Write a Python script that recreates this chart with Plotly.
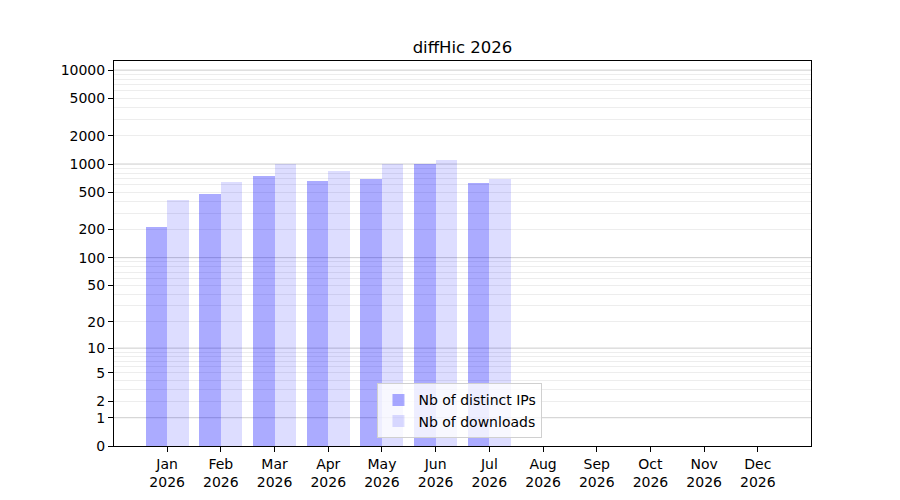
import plotly.graph_objects as go

months = ['Jan', 'Feb', 'Mar', 'Apr', 'May', 'Jun', 'Jul', 'Aug', 'Sep', 'Oct', 'Nov', 'Dec']
year = 2026
nbDistinctIPs = [215, 480, 745, 660, 695, 1005, 630]
nbDownloads = [414, 645, 995, 845, 995, 1105, 695]

tickValues = [0, 1, 2, 5, 10, 20, 50, 100, 200, 500, 1000, 2000, 5000, 10000]
majorGrid = [1, 10, 100, 1000, 10000]
minorGrid = [k * 10 ** n for n in range(0, 4) for k in range(2, 10)]

xLabels = ['%s<br>%d' % (m, year) for m in months]


# the y scale is log10(1 + value): plot value+1 on a log axis
def shift(values):
    return [v + 1 for v in values]


fig = go.Figure()
fig.add_trace(go.Bar(
    x=list(range(len(nbDistinctIPs))), y=shift(nbDistinctIPs),
    name='Nb of distinct IPs',
    marker=dict(color='rgba(0,0,255,0.33)', line=dict(width=0)),
    width=0.4, offset=-0.4,
))
fig.add_trace(go.Bar(
    x=list(range(len(nbDownloads))), y=shift(nbDownloads),
    name='Nb of downloads',
    marker=dict(color='rgba(0,0,255,0.135)', line=dict(width=0)),
    width=0.4, offset=0,
))

# darker lines at the powers of ten
for v in majorGrid:
    fig.add_shape(type='line', xref='paper', x0=0, x1=1, yref='y', y0=v + 1, y1=v + 1,
                  line=dict(color='rgba(0,0,0,0.2)', width=1), layer='below')

fig.update_layout(
    width=900, height=500,
    title=dict(text='diffHic %d' % year, x=0.505, xanchor='center', y=0.922, yanchor='middle',
               font=dict(family='DejaVu Sans', size=16.5, color='black')),
    font=dict(family='DejaVu Sans', size=14, color='black'),
    plot_bgcolor='white', paper_bgcolor='white',
    margin=dict(l=106, r=97, t=53, b=62),
    barmode='overlay', bargap=0,
    showlegend=True,
    legend=dict(x=0.378, y=0.02, xanchor='left', yanchor='bottom',
                bgcolor='rgba(255,255,255,0.8)', bordercolor='#d0d0d0', borderwidth=1,
                font=dict(size=14), traceorder='normal', tracegroupgap=0),
    xaxis=dict(
        tickmode='array', tickvals=list(range(len(months))), ticktext=xLabels,
        range=[-0.99, 11.99], showgrid=False, zeroline=False,
        showline=True, linecolor='black', linewidth=1, mirror=True,
        ticks='outside', ticklen=5, tickcolor='black',
    ),
    yaxis=dict(
        type='log', range=[0, 4.097],
        tickmode='array', tickvals=shift(tickValues), ticktext=[str(t) for t in tickValues],
        showgrid=False, zeroline=False,
        showline=True, linecolor='black', linewidth=1, mirror=True,
        ticks='outside', ticklen=5, tickcolor='black',
        minor=dict(tickmode='array', tickvals=shift(minorGrid), showgrid=True,
                   gridcolor='rgba(0,0,0,0.07)', gridwidth=1, ticks=''),
    ),
)

fig.write_html('out.html')
